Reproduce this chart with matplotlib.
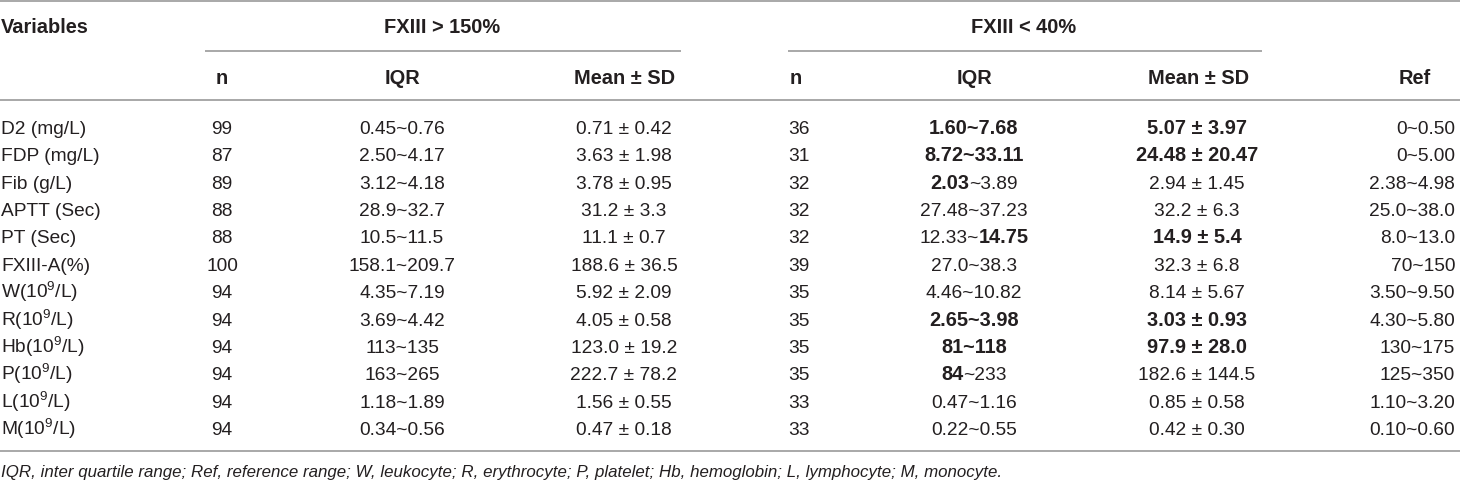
import matplotlib
matplotlib.use("Agg")
import matplotlib.pyplot as plt

plt.rcParams['font.family'] = ['Liberation Sans', 'DejaVu Sans']
plt.rcParams['mathtext.fontset'] = 'custom'
plt.rcParams['mathtext.rm'] = 'Liberation Sans'

# ---------------- data ----------------
variables = ["D2 (mg/L)", "FDP (mg/L)", "Fib (g/L)", "APTT (Sec)", "PT (Sec)", "FXIII-A(%)",
             r"W(10$^{\mathregular{9}}$/L)", r"R(10$^{\mathregular{9}}$/L)", r"Hb(10$^{\mathregular{9}}$/L)",
             r"P(10$^{\mathregular{9}}$/L)", r"L(10$^{\mathregular{9}}$/L)", r"M(10$^{\mathregular{9}}$/L)"]
hi_n = ["99", "87", "89", "88", "88", "100", "94", "94", "94", "94", "94", "94"]
hi_iqr = ["0.45~0.76", "2.50~4.17", "3.12~4.18", "28.9~32.7", "10.5~11.5", "158.1~209.7",
          "4.35~7.19", "3.69~4.42", "113~135", "163~265", "1.18~1.89", "0.34~0.56"]
hi_mean = ["0.71 ± 0.42", "3.63 ± 1.98", "3.78 ± 0.95", "31.2 ± 3.3", "11.1 ± 0.7", "188.6 ± 36.5",
           "5.92 ± 2.09", "4.05 ± 0.58", "123.0 ± 19.2", "222.7 ± 78.2", "1.56 ± 0.55", "0.47 ± 0.18"]
lo_n = ["36", "31", "32", "32", "32", "39", "35", "35", "35", "35", "33", "33"]
# ** marks bold parts
lo_iqr = ["**1.60~7.68**", "**8.72~33.11**", "**2.03**~3.89", "27.48~37.23", "12.33~**14.75**",
          "27.0~38.3", "4.46~10.82", "**2.65~3.98**", "**81~118**", "**84**~233", "0.47~1.16", "0.22~0.55"]
lo_mean = ["**5.07 ± 3.97**", "**24.48 ± 20.47**", "2.94 ± 1.45", "32.2 ± 6.3", "**14.9 ± 5.4**",
           "32.3 ± 6.8", "8.14 ± 5.67", "**3.03 ± 0.93**", "**97.9 ± 28.0**", "182.6 ± 144.5",
           "0.85 ± 0.58", "0.42 ± 0.30"]
ref = ["0~0.50", "0~5.00", "2.38~4.98", "25.0~38.0", "8.0~13.0", "70~150", "3.50~9.50",
       "4.30~5.80", "130~175", "125~350", "1.10~3.20", "0.10~0.60"]
group_labels = ["FXIII > 150%", "FXIII < 40%"]
col_labels = ["n", "IQR", "Mean ± SD", "n", "IQR", "Mean ± SD", "Ref"]
footnote = ("IQR, inter quartile range; Ref, reference range; W, leukocyte; R, erythrocyte; "
            "P, platelet; Hb, hemoglobin; L, lymphocyte; M, monocyte.")

# ---------------- layout ----------------
W, H = 1460, 482
fig = plt.figure(figsize=(W / 100, H / 100), dpi=100)
ax = fig.add_axes([0, 0, 1, 1])
ax.set_xlim(0, W)
ax.set_ylim(H, 0)
ax.axis('off')

FS = 13.8
FSB = 14.4
TXT = '#231f20'
LINE = '#9a9a9a'
renderer = fig.canvas.get_renderer()


def draw_cell(x, y, s, ha='left'):
    parts = s.split('**')
    segs = [(p, i % 2 == 1) for i, p in enumerate(parts) if p]
    arts = []
    widths = []
    for txt, bold in segs:
        t = ax.text(0, y, txt, fontsize=FSB if bold else FS,
                    fontweight='bold' if bold else 'normal',
                    color=TXT, ha='left', va='baseline')
        bb = t.get_window_extent(renderer=renderer)
        arts.append(t)
        widths.append(bb.width)
    total = sum(widths)
    if ha == 'left':
        x0 = x
    elif ha == 'center':
        x0 = x - total / 2
    else:
        x0 = x - total
    for t, w in zip(arts, widths):
        t.set_x(x0)
        x0 += w


def hline(x0, x1, y):
    ax.plot([x0, x1], [y, y], color=LINE, lw=1.2, solid_capstyle='butt')


# rules
hline(0, W, 1)
hline(205, 681, 51)
hline(788, 1262, 51)
hline(0, W, 100)
hline(0, W, 451)

# header
ax.text(1, 33, "Variables", fontsize=FSB, fontweight='bold', color=TXT, ha='left', va='baseline')
ax.text(442, 33, group_labels[0], fontsize=FSB, fontweight='bold', color=TXT, ha='center', va='baseline')
ax.text(1024, 33, group_labels[1], fontsize=FSB, fontweight='bold', color=TXT, ha='center', va='baseline')

col_x = [222, 402, 625, 796, 974, 1199, 1415]
for cx, lab in zip(col_x, col_labels):
    ax.text(cx, 84, lab, fontsize=FSB, fontweight='bold', color=TXT, ha='center', va='baseline')

# body
y0, dy = 134, 27.36
for i in range(len(variables)):
    y = y0 + i * dy
    draw_cell(1, y, variables[i], 'left')
    draw_cell(222, y, hi_n[i], 'center')
    draw_cell(402, y, hi_iqr[i], 'center')
    draw_cell(624, y, hi_mean[i], 'center')
    draw_cell(788, y, lo_n[i], 'left')
    draw_cell(974, y, lo_iqr[i], 'center')
    draw_cell(1197, y, lo_mean[i], 'center')
    draw_cell(1455, y, ref[i], 'right')

ax.text(1, 477, footnote, fontsize=12.2, style='italic', color=TXT, ha='left', va='baseline')

fig.savefig("out.png", dpi=100)
